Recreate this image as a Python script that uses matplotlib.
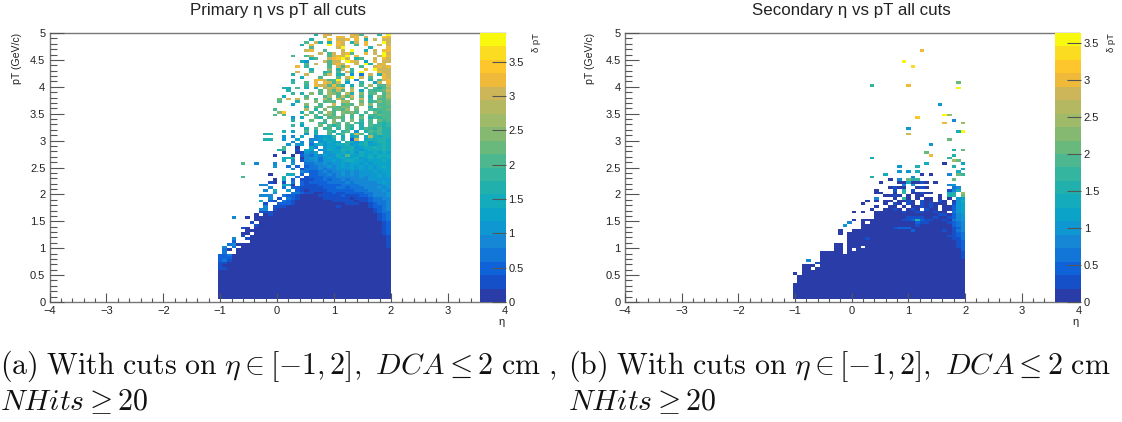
import matplotlib
matplotlib.use("Agg")
import matplotlib.pyplot as plt
from matplotlib.colors import ListedColormap, BoundaryNorm
from matplotlib.ticker import MultipleLocator
import numpy as np

plt.rcParams['font.family'] = ['Liberation Sans', 'DejaVu Sans']
plt.rcParams['mathtext.fontset'] = 'cm'

W, H = 1122, 422

# palette bands of the colour bar, bottom to top
palette = ['#2a3ca8', '#1650c8', '#0f62d8', '#1275d8', '#1587d4', '#0e97d0', '#0ba3c8', '#14abbc',
           '#22b0ad', '#34b59f', '#4db78f', '#69b97d', '#85b972', '#9fba68', '#b4b860', '#cdb65a',
           '#efba3a', '#fcc62c', '#fcdc20', '#f9f90f']
code = '0123456789abcdefghij'

primary_max = 3.92
secondary_max = 3.635
primary_cb_ticks = [0, 0.5, 1, 1.5, 2, 2.5, 3, 3.5]
secondary_cb_ticks = [0, 0.5, 1, 1.5, 2, 2.5, 3, 3.5]

B = ".......... .......... .......... ........"
S = "0000000000 0000000000 0000000000 00000000"

# one string per pT bin, top (5 GeV/c) to bottom, one char per eta bin from -1.04 to 2
primary_bins = [
    ".......... .......... .8.gf....g fa...9.j",
    ".......... .......... ...f..gg.f g.f...hg",
    ".......... .......... 8...h.ffg. g.8.f.ff",
    ".......... .........a .f8.8.gf.8 f.g...jf",
    ".......... ........8. g...j.gf.. a.g..f.f",
    ".......... .......... a.....fj.. ...8...g",
    ".......... .........f g..a...f.j ..8.f.gg",
    ".......... .......... ..f.af.fga ..g.f.jf",
    ".......... ......a..a f...afgfj. g....fjg",
    ".......... .......... 8a..fghjf. 8a..f.gf",
    ".......... ........75 ...faff.jg f.6.g.ff",
    ".......... .........a .f..afgf.. f.j8.fg.",
    ".......... .......g.9 ....a.fag. .a..fgfg",
    ".......... .......... 8...c.8f.9 ..g.jfff",
    ".......... .......f.. a..8a.a.f9 .j...gff",
    ".......... ......8..f ...af.88.5 .3.f.8gf",
    ".......... ........7. ..a...a.fj .f.a..gf",
    ".......... ......8... .ggfaaj.a. 4..8.afg",
    ".......... ......9..a .g.gfaf.6. .9..6f.g",
    ".......... .........9 .gffagb8.7 .a.d.aaf",
    ".......... ....87.a.8 .8.dfdgf.d ..a.a8ad",
    ".......... .....8.... ..a.dafa.f .7.a9abf",
    ".......... ......9.8. c.a.dca.e8 .c.ab.ad",
    ".......... ....7....a ...ad.afaf .a.8.cae",
    ".......... ...b.f.f.c .a.ea.fa.c .f.9.aac",
    ".......... ...a...8.. .c.aba.ed. .b.9acab",
    ".......... ......6..c ..a..f.aba .d.c.aab",
    ".......... .........9 .ba.cbacb. c..8.baa",
    ".......... ..a......e .8.c.abad. b..a9aab",
    ".......... ...ch...8. a.a.da.cbc a.a.c9aa",
    ".......... ..a.a....c .a.bca.b.a .9.a9baa",
    ".......... ......5.7. .a8.abca.a .b.8a9aa",
    ".......... ......8... b..a.c.a.c .9.a.b9a",
    ".......... ........8. ..a9.ca.b. a8.a.989",
    ".......... ......9.6. ..b.a8a.a9 .8.a9989",
    ".......... .........8 .a.9a.9.a8 .8a98a88",
    ".......... ....8.6..a .7..a8.9a. 5.8a9a88",
    ".......... 88.......5 .8..a.8a.8 fa.98a88",
    ".......... ....5.4.7. .45669.7.5 8.7e8788",
    ".......... 88..5..6.. 445767.8.2 f.787887",
    ".......... ......4.4. 4.55766.87 57857887",
    ".......... .....5.55. 3675667785 67866787",
    ".......... ....a..0.. 64.5665778 56778787",
    ".......... ...89..1.7 6.45766877 65677787",
    ".......... ....0..015 46.5566767 57667676",
    ".......... ..0...0.24 35465576a6 67676777",
    ".......... ....788.04 5535656766 75676767",
    ".......... ....7.4.14 4535565677 66566676",
    ".....a..4. ..4...5..3 3445455656 65656666",
    ".......... ..5..3.2.2 3344545656 56565676",
    ".......... ......4.13 3343445556 56565666",
    ".......... ........43 2234344545 45556566",
    ".......... .0...77.2. 2233434545 45555656",
    ".....a.... ....8..3.1 2223334444 45455656",
    ".......... ..0.7.2.11 1223233434 44455555",
    ".......... .10.1.3.21 2222333343 44444565",
    ".........4 4...770.21 1122222333 34444455",
    ".......... .4..3.2211 1112223323 33444545",
    ".......... 4.7..5.210 1111222222 33344454",
    ".......... ..5...3321 1001121122 22334445",
    ".........4 44..322100 0011111211 12234445",
    ".......... .4.1.32100 0001111110 11123344",
    ".........7 .21.321000 0000011111 01123334",
    ".......... 1..2221000 0000000011 10012334",
    ".......... 4.11100000 0000001000 00012234",
    ".........4 4.10000000 0000000000 00001234",
    ".........1 1100000000 0000000000 00001233",
    "........0. 0100000000 0000000000 00000123",
    "...4..0.00 0000000000 0000000000 00000123",
    "........00 0000000000 0000000000 00000123",
    ".......1.0 0000000000 0000000000 00000012",
    "........10 0000000000 0000000000 00000012",
    ".....10.00 0000000000 0000000000 00000012",
    "......0000 0000000000 0000000000 00000012",
    ".....00.00 0000000000 0000000000 00000012",
    ".....1.000 0000000000 0000000000 00000001",
    "...4..1000 0000000000 0000000000 00000001",
    "...2...000 0000000000 0000000000 00000001",
    "..34000000 0000000000 0000000000 00000001",
    ".4.3.00000 0000000000 0000000000 00000001",
    ".30.000000 0000000000 0000000000 00000000",
    ".3..000000 0000000000 0000000000 00000000",
    "2230000000 0000000000 0000000000 00000000",
    "2220000000 0000000000 0000000000 00000000",
    "2310000000 0000000000 0000000000 00000000",
    "1100000000 0000000000 0000000000 00000000",
    "1000000000 0000000000 0000000000 00000000",
    "1100000000 0000000000 0000000000 00000000",
    S, S, S, S, S, S, S, S, S, S, S,
    B,
]

secondary_bins = [
    B, B, B, B, B, B,
    ".......... .......... ........g. ........",
    B, B, B,
    ".......... .......... ....j..... ........",
    B,
    ".......... .......... ......i... ........",
    B, B, B, B, B,
    ".......... .......... .......... ......b.",
    ".......... .......9.. .....g.... ........",
    ".......... .......... .......... ......j.",
    B, B, B, B, B,
    ".......... .......... .......... ..5.....",
    B, B, B,
    ".......... .......... .......... ...jd...",
    ".......... .......... .......h.. ........",
    ".......... .......... .......... .....4..",
    ".......... .......... .......... ...g...d",
    B,
    ".......... .......... .....5.... ........",
    ".......... .......... .......... ......7j",
    ".......... .......... .....f.... ........",
    B,
    ".......... .......... .......... ....b...",
    B,
    ".......... .......... .......... 5.......",
    B,
    ".......... .......... .......... .....8.b",
    ".......... .......... .........b ........",
    ".......... .......... .......... g....8..",
    ".......... .......7.. .......... ....9...",
    ".......... .......... .......... .....db.",
    ".......... .......... .........7 ...0...6",
    ".......... .......... ...5...8.. .....8..",
    ".......... .......... .......... .......7",
    ".......... .......... ...5.5.7.. ......7.",
    ".......... .......... 7.......0. 0...4.b9",
    ".......... .......8.. ......4... ........",
    ".......... .......... .0.4.b89.. .....b..",
    ".......... .........0 ...0070010 .0......",
    ".......... .......... ....4.5... ....45..",
    ".......... .......... .0100..010 .....34.",
    ".......... ........0. ..1.8.1... ....147.",
    ".......... ........00 ..0.9.0010 0...78.d",
    ".......... .......... 0010.0.00. ..0.88.b",
    ".......... ........4. ..0.90.0.0 0.0.0.56",
    ".......... ......0.0. 00.0010.10 0.10.057",
    ".......... .....0.... 0.10.10.10 1000.156",
    ".......... ........0. .00.0.0010 10.00256",
    ".......... .......0.. 0010.010.1 00.00256",
    ".......... ...0.0..00 0000100110 0100.356",
    ".......... ........00 0000000000 00110245",
    ".......... ........00 0000011110 01001245",
    ".......... ...0.00000 0000112821 10010345",
    ".......... ..4..0.000 0000000211 00001234",
    ".......... .5...00000 0000000100 00000234",
    ".......... .....00000 0012220000 00000124",
    ".......... 0..0000000 0000002000 00010134",
    ".......... 0.00000000 0000000000 00000123",
    ".......... ..00000000 0000000000 00001123",
    ".......... ..00001000 0000000000 00000113",
    ".......... ..00000000 0000000000 00000012",
    ".........0 0.00000000 0000000000 00000012",
    ".........0 0.000.0000 0000000000 00000012",
    ".........0 0.0.000000 0000000000 00000002",
    "......0000 0.00000000 0000000000 00000001",
    "......0000 0000000000 0000000000 00000001",
    "......0000 0000000000 0000000000 00000001",
    "...4..0000 0000000000 0000000000 00000000",
    ".....10000 0000000000 0000000000 00000000",
    "..000.0000 0000000000 0000000000 00000000",
    "..00.00000 0000000000 0000000000 00000000",
    "..00000000 0000000000 0000000000 00000000",
    "0.00000000 0000000000 0000000000 00000000",
    ".000000000 0000000000 0000000000 00000000",
    ".000000000 0000000000 0000000000 00000000",
    ".000000000 0000000000 0000000000 00000000",
    S, S, S, S, S, S,
    B,
]


def parse_bins(rows, vmax):
    # level of each cell turned into a delta pT value, empty bins stay NaN
    bad = [i for i, r in enumerate(rows) if len(r.replace(" ", "")) != 38]
    if bad or len(rows) != 100:
        raise ValueError(f"rows {len(rows)} bad {bad}")
    grid = np.full((100, 38), np.nan)
    for i, row in enumerate(rows):
        for j, ch in enumerate(row.replace(" ", "")):
            if ch != '.':
                grid[99 - i, j] = (code.index(ch) + 0.5) * vmax / 20
    return grid


def px_box(x0, x1, y0, y1):
    return [x0 / W, 1 - y1 / H, (x1 - x0) / W, (y1 - y0) / H]


def draw_panel(fig, grid, vmax, cb_ticks, title, x0, x1, cb0, cb1, title_x, ylab_x):
    ax = fig.add_axes(px_box(x0, x1, 33, 302))
    cmap = ListedColormap(palette)
    norm = BoundaryNorm(np.linspace(0, vmax, 21), 20)
    eta_edges = np.linspace(-1.04, 2.0, 39)
    pt_edges = np.linspace(0, 5, 101)
    mesh = ax.pcolormesh(eta_edges, pt_edges, grid, cmap=cmap, norm=norm, zorder=1)
    ax.set_xlim(-4, 4)
    ax.set_ylim(0, 5)
    ax.xaxis.set_minor_locator(MultipleLocator(0.2))
    ax.yaxis.set_minor_locator(MultipleLocator(0.1))
    ax.set_xticks(np.arange(-4, 5))
    ax.set_xticklabels(['\u22124', '\u22123', '\u22122', '\u22121', '0', '1', '2', '3', '4'])
    ax.set_yticks(np.arange(0, 5.5, 0.5))
    ax.set_yticklabels(['0', '0.5', '1', '1.5', '2', '2.5', '3', '3.5', '4', '4.5', '5'])
    ax.tick_params(axis='x', which='major', direction='in', length=6.5, width=0.8, color='#555555',
                   labelsize=8, labelcolor='#222222', pad=3)
    ax.tick_params(axis='x', which='minor', direction='in', length=3.2, width=0.8, color='#555555')
    ax.tick_params(axis='y', which='major', direction='in', length=10, width=0.8, color='#555555',
                   labelsize=8, labelcolor='#222222', pad=3)
    ax.tick_params(axis='y', which='minor', direction='in', length=5, width=0.8, color='#555555')
    for name in ['left', 'bottom', 'top']:
        ax.spines[name].set_color('#777777')
        ax.spines[name].set_linewidth(1.0)
    ax.spines['right'].set_visible(False)
    ax.set_axisbelow(False)

    cax = fig.add_axes(px_box(cb0, cb1, 33, 302), zorder=3)
    fig.colorbar(mesh, cax=cax, spacing='proportional', ticks=cb_ticks, drawedges=False)
    cax.set_yticklabels(['0', '0.5', '1', '1.5', '2', '2.5', '3', '3.5'])
    cax.minorticks_off()
    cax.tick_params(axis='y', direction='in', length=10, width=0.8, color='#555555',
                    labelsize=8, labelcolor='#222222', pad=2)
    for sp in cax.spines.values():
        sp.set_visible(False)

    fig.text(title_x / W, 1 - 10 / H, title, ha='center', va='center', fontsize=12.2, color='#222222')
    fig.text(ylab_x / W, 1 - 33 / H, 'pT (GeV/c)', rotation=90, ha='center', va='top', fontsize=7.6, color='#222222')
    fig.text((x1 - 3) / W, 1 - 322 / H, '\u03b7', ha='center', va='center', fontsize=8, color='#222222')
    fig.text((cb1 + 31) / W, 1 - 33 / H, '\u03b4 pT', rotation=90, ha='center', va='top', fontsize=6.8, color='#222222')


fig = plt.figure(figsize=(W / 100, H / 100), dpi=100)

draw_panel(fig, parse_bins(primary_bins, primary_max), primary_max, primary_cb_ticks,
           'Primary \u03b7 vs pT all cuts', 49.5, 504.7, 480, 505.6, 277.5, 17)
draw_panel(fig, parse_bins(secondary_bins, secondary_max), secondary_max, secondary_cb_ticks,
           'Secondary \u03b7 vs pT all cuts', 625, 1078.5, 1055, 1081, 851, 590)

# sub captions
cap1a = r'$\mathrm{(a)\ With\ cuts\ on}\ \eta\in[-1,2],\ DCA\leq 2\ \mathrm{cm}\ ,$'
cap1b = r'$NHits\geq 20$'
cap2a = r'$\mathrm{(b)\ With\ cuts\ on}\ \eta\in[-1,2],\ DCA\leq 2\ \mathrm{cm}$'
cap2b = r'$NHits\geq 20$'
fig.text(0 / W, 1 - 374 / H, cap1a, fontsize=21.5, color='#111111', va='baseline')
fig.text(0 / W, 1 - 410 / H, cap1b, fontsize=21.5, color='#111111', va='baseline')
fig.text(568 / W, 1 - 374 / H, cap2a, fontsize=21.5, color='#111111', va='baseline')
fig.text(568 / W, 1 - 410 / H, cap2b, fontsize=21.5, color='#111111', va='baseline')

plt.savefig('out.png', dpi=100)
